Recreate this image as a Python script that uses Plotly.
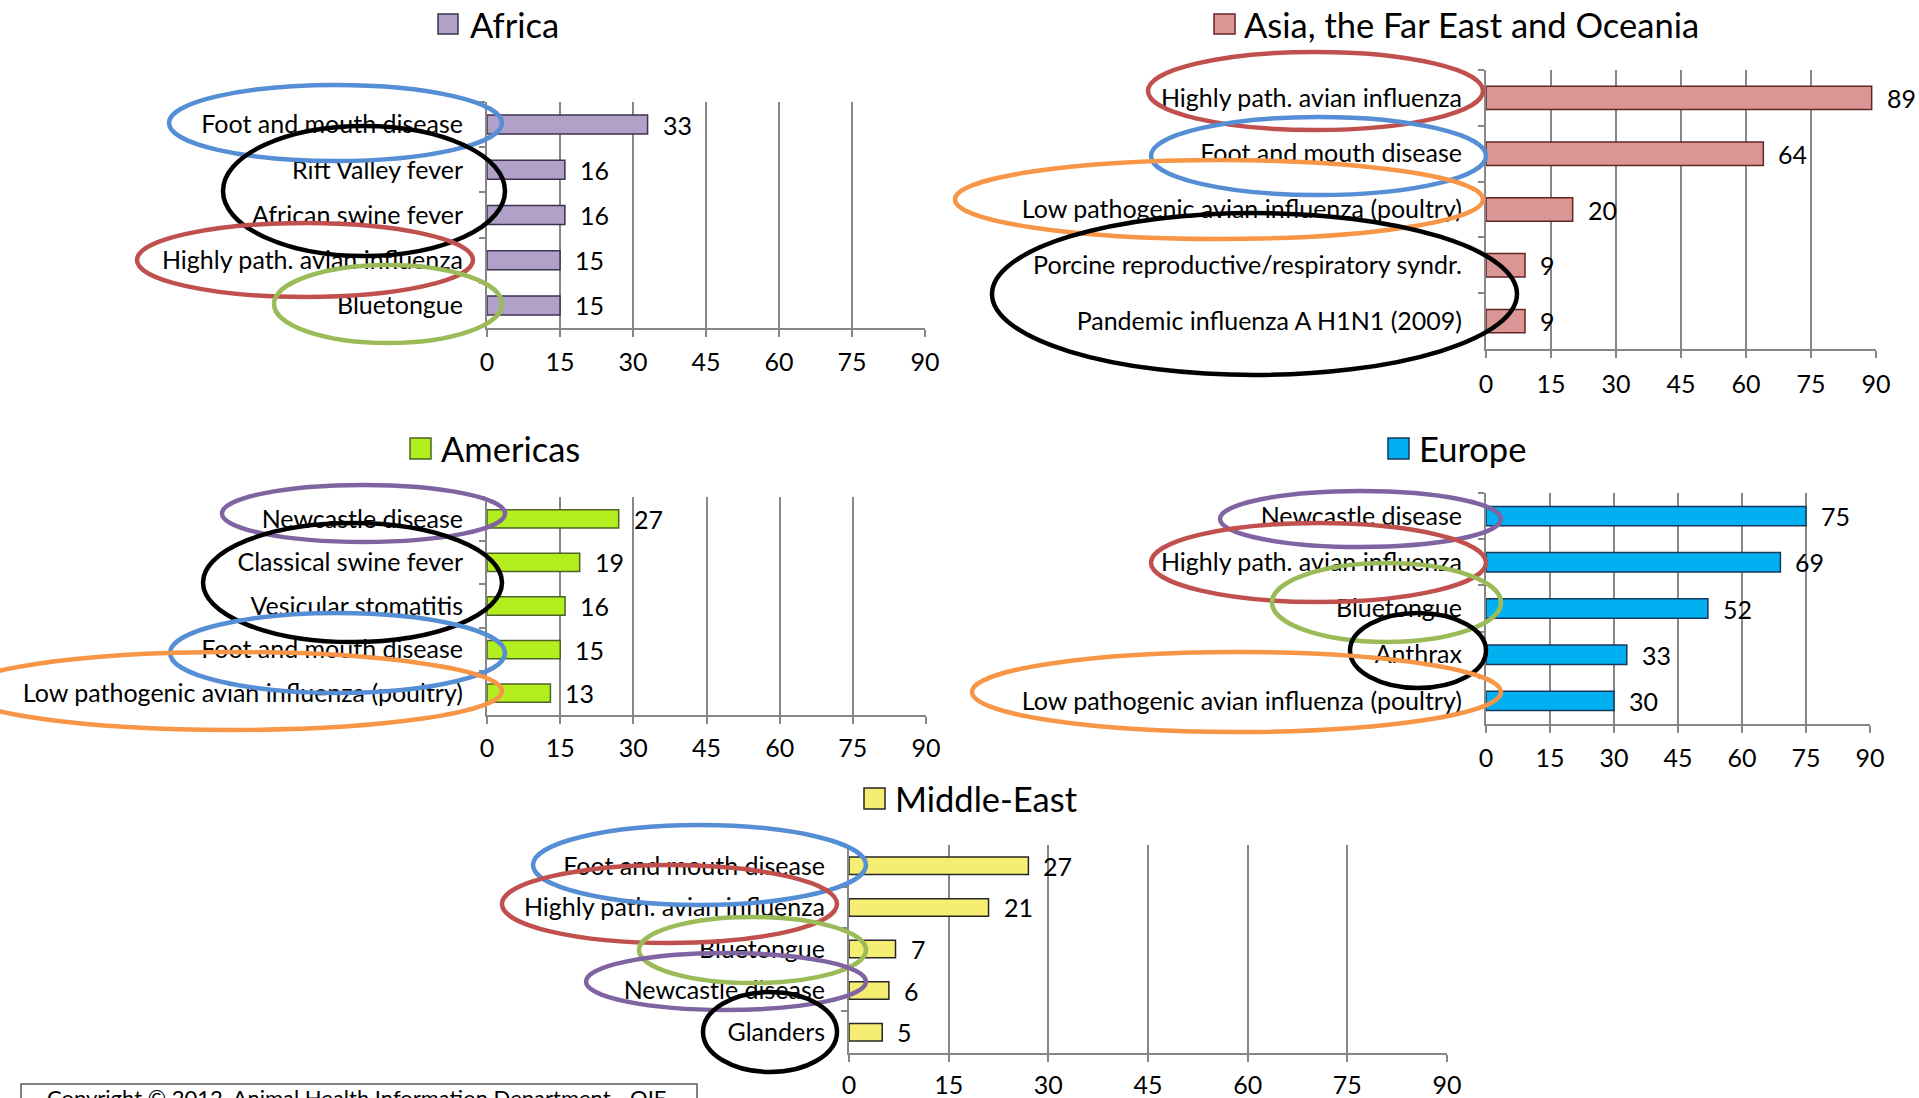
import plotly.graph_objects as go

W, H = 1919, 1098
FONT = "Lato"
GRID = "#878787"

# ---- data: top five diseases by number of outbreaks, per region ----
africa_diseases = ["Foot and mouth disease", "Rift Valley fever", "African swine fever",
                   "Highly path. avian influenza", "Bluetongue"]
africa_outbreaks = [33, 16, 16, 15, 15]

asia_diseases = ["Highly path. avian influenza", "Foot and mouth disease",
                 "Low pathogenic avian influenza (poultry)",
                 "Porcine reproductive/respiratory syndr.",
                 "Pandemic influenza A H1N1 (2009)"]
asia_outbreaks = [89, 64, 20, 9, 9]

americas_diseases = ["Newcastle disease", "Classical swine fever", "Vesicular stomatitis",
                     "Foot and mouth disease", "Low pathogenic avian influenza (poultry)"]
americas_outbreaks = [27, 19, 16, 15, 13]

europe_diseases = ["Newcastle disease", "Highly path. avian influenza", "Bluetongue",
                   "Anthrax", "Low pathogenic avian influenza (poultry)"]
europe_outbreaks = [75, 69, 52, 33, 30]

middle_east_diseases = ["Foot and mouth disease", "Highly path. avian influenza",
                        "Bluetongue", "Newcastle disease", "Glanders"]
middle_east_outbreaks = [27, 21, 7, 6, 5]

axis_ticks = [0, 15, 30, 45, 60, 75, 90]


def px(x):
    return x / W


def py(y):
    return 1 - y / H


# ---- panel layout (pixel boxes) and styles ----
panels = [
    dict(name="Africa", cats=africa_diseases, vals=africa_outbreaks,
         fill="#B1A0C7", edge="#3F3151", standoff=4,
         box=(487, 102, 925, 328), swatch=(438, 14, 458, 34), title_x=468, title_y=24),
    dict(name="Asia, the Far East and Oceania", cats=asia_diseases, vals=asia_outbreaks,
         fill="#D99694", edge="#632523", standoff=5,
         box=(1486, 70, 1876, 349), swatch=(1214, 14, 1235, 34), title_x=1242, title_y=24),
    dict(name="Americas", cats=americas_diseases, vals=americas_outbreaks,
         fill="#B3EE1E", edge="#4F6228", standoff=3,
         box=(487, 497, 926, 715), swatch=(410, 438, 431, 459), title_x=439, title_y=448),
    dict(name="Europe", cats=europe_diseases, vals=europe_outbreaks,
         fill="#00B0F0", edge="#17375E", standoff=4,
         box=(1486, 493, 1870, 724), swatch=(1388, 438, 1409, 459), title_x=1417, title_y=448),
    dict(name="Middle-East", cats=middle_east_diseases, vals=middle_east_outbreaks,
         fill="#F6EE72", edge="#262626", standoff=2,
         box=(849, 845, 1447, 1053), swatch=(864, 788, 885, 809), title_x=893, title_y=798),
]

# highlight rings drawn around disease labels (pixel boxes)
rings = [
    ("#558ED5", 169, 85, 502, 161), ("#000000", 223, 126, 505, 256),
    ("#C0504D", 137, 223, 473, 297), ("#9BBB59", 274, 265, 502, 343),

    ("#C0504D", 1148, 52, 1483, 130), ("#558ED5", 1151, 117, 1486, 195),
    ("#F79646", 955, 160, 1483, 239), ("#000000", 992, 213, 1517, 375),

    ("#8064A2", 222, 485, 505, 542), ("#000000", 203, 523, 502, 642),
    ("#558ED5", 170, 613, 505, 693), ("#F79646", -40, 652, 502, 730),

    ("#8064A2", 1220, 491, 1501, 547), ("#C0504D", 1151, 523, 1486, 602),
    ("#9BBB59", 1272, 563, 1501, 642), ("#000000", 1350, 613, 1486, 688),
    ("#F79646", 972, 652, 1501, 732),

    ("#558ED5", 533, 825, 866, 905), ("#C0504D", 502, 865, 837, 943),
    ("#9BBB59", 639, 917, 866, 983), ("#8064A2", 586, 953, 866, 1010),
    ("#000000", 703, 992, 837, 1072),
]

fig = go.Figure()
layout = dict(
    width=W, height=H, autosize=False,
    margin=dict(l=0, r=0, t=0, b=0, pad=0, autoexpand=False),
    paper_bgcolor="white", plot_bgcolor="white",
    font=dict(family=FONT, size=25, color="black"),
    showlegend=False, bargap=0.58,
)
annotations = []
shapes = []

for i, p in enumerate(panels, start=1):
    xa, ya = f"x{i}", f"y{i}"
    x0, y0, x1, y1 = p["box"]
    fig.add_trace(go.Bar(
        x=p["vals"], y=p["cats"], orientation="h", xaxis=xa, yaxis=ya,
        marker=dict(color=p["fill"], line=dict(color=p["edge"], width=1.5)),
        hoverinfo="x+y",
    ))
    sfx = "" if i == 1 else str(i)
    layout["xaxis" + sfx] = dict(
        domain=[px(x0), px(x1)], anchor=ya, range=[0, 90], automargin=False,
        tickmode="array", tickvals=axis_ticks, ticktext=[str(t) for t in axis_ticks],
        showgrid=True, gridcolor=GRID, gridwidth=2, zeroline=False,
        showline=True, linecolor=GRID, linewidth=2,
        ticks="outside", ticklen=7, tickwidth=2, tickcolor=GRID,
        ticklabelstandoff=p["standoff"], tickfont=dict(size=25),
    )
    layout["yaxis" + sfx] = dict(
        domain=[py(y1), py(y0)], anchor=xa, type="category", automargin=False,
        categoryorder="array", categoryarray=p["cats"], autorange="reversed",
        showgrid=False, zeroline=False,
        showline=True, linecolor=GRID, linewidth=2,
        ticks="outside", tickson="boundaries", ticklen=6, tickwidth=1.5, tickcolor=GRID,
        ticklabelstandoff=17, tickfont=dict(size=25),
    )
    # value labels at the end of each bar
    for c, v in zip(p["cats"], p["vals"]):
        annotations.append(dict(
            x=v, y=c, xref=xa, yref=ya, text=str(v), showarrow=False,
            xanchor="left", yanchor="middle", xshift=13, font=dict(size=25),
        ))
    # region header: colour swatch + name
    sx0, sy0, sx1, sy1 = p["swatch"]
    shapes.append(dict(
        type="rect", xref="paper", yref="paper",
        x0=px(sx0), x1=px(sx1), y0=py(sy1), y1=py(sy0),
        fillcolor=p["fill"], line=dict(color=p["edge"], width=1.5),
    ))
    annotations.append(dict(
        x=px(p["title_x"]), y=py(p["title_y"]), xref="paper", yref="paper",
        text=p["name"], showarrow=False, xanchor="left", yanchor="middle",
        font=dict(size=34.5),
    ))

for color, ex0, ey0, ex1, ey1 in rings:
    shapes.append(dict(
        type="circle", xref="paper", yref="paper", layer="above",
        x0=px(ex0), x1=px(ex1), y0=py(ey1), y1=py(ey0),
        line=dict(color=color, width=4.5), fillcolor="rgba(0,0,0,0)",
    ))

# copyright box at the bottom left
shapes.append(dict(
    type="rect", xref="paper", yref="paper",
    x0=px(21), x1=px(697), y0=py(1130), y1=py(1084),
    line=dict(color="#595959", width=1.5), fillcolor="white", layer="below",
))
annotations.append(dict(
    x=px(45), y=py(1097), xref="paper", yref="paper",
    text="Copyright © 2012, Animal Health Information Department - OIE",
    showarrow=False, xanchor="left", yanchor="middle", font=dict(size=22),
))

layout["annotations"] = annotations
layout["shapes"] = shapes
fig.update_layout(**layout)
fig.write_html(
    "out.html",
    config={"responsive": False, "displayModeBar": False},
    post_script="document.body.style.margin='0';document.documentElement.style.overflow='hidden';",
)
